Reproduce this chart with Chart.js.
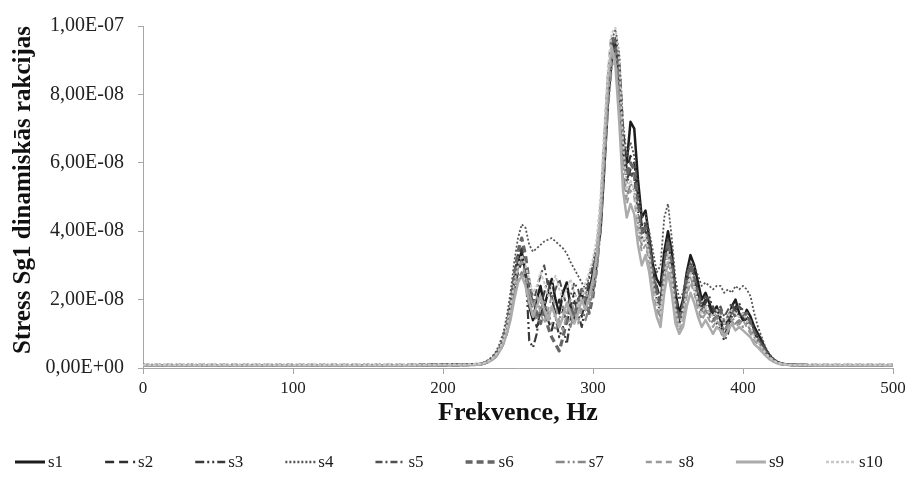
<!DOCTYPE html>
<html>
<head>
<meta charset="utf-8">
<script src="https://cdn.jsdelivr.net/npm/chart.js@4/dist/chart.umd.min.js"></script>
<style>
  html, body { margin: 0; padding: 0; background: #ffffff; }
  #wrap { width: 912px; height: 480px; position: relative; }
</style>
</head>
<body>
<div id="wrap"><canvas id="chart" width="912" height="480"></canvas></div>
<script>
// Frequency grid, Hz
const freq = [
  0, 20, 40, 60, 80, 100, 120, 140, 160, 180, 200, 210, 220,
  225, 227.5, 230, 232.5, 235, 237.5, 240, 242.5, 245, 247.5,
  250, 252.5, 255, 257.5, 260, 262.5, 265, 267.5, 270, 272.5,
  275, 277.5, 280, 282.5, 285, 287.5, 290, 292.5, 295, 297.5,
  300, 302.5, 305, 307.5, 310, 312.5, 315, 317.5, 320, 322.5,
  325, 327.5, 330, 332.5, 335, 337.5, 340, 342.5, 345, 347.5,
  350, 352.5, 355, 357.5, 360, 362.5, 365, 367.5, 370, 372.5,
  375, 377.5, 380, 382.5, 385, 387.5, 390, 392.5, 395, 397.5,
  400, 402.5, 405, 407.5, 410, 412.5, 415, 417.5, 420, 422.5,
  425, 427.5, 430, 432.5, 435,
  445, 460, 480, 500
];

// Stress Sg1 dynamic response per measurement, in units of 1E-09
const s1 = [
  0.8,0.8,0.8,0.8,0.8,0.8,0.8,0.8,0.8,0.8,0.9,0.9,1.0,
  1.1,1.4,1.9,2.6,3.6,5.2,7.5,11,17,25,
  31,34,28,18,14,20,24,18,22,26,
  20,16,22,25,18,14,20,22,17,22,
  28,33,40,58,78,90,95,84,62,60,
  72,70,55,44,46,38,30,26,24,34,
  40,34,22,16,20,28,33,30,25,20,
  22,19,16,18,14,9,12,18,20,16,
  14,17,15,12,10,8,5.5,3.8,2.6,1.8,
  1.3,1.1,1.0,0.9,0.9,
  0.8,0.8,0.8,0.8
];
const s2 = [
  0.7,0.7,0.7,0.7,0.7,0.7,0.7,0.7,0.7,0.7,0.8,0.8,0.9,
  1.0,1.3,1.7,2.3,3.2,4.6,6.8,10,15,22,
  28,31,27,20,16,12,15,19,14,11,
  16,20,17,13,18,22,19,15,20,25,
  24,30,42,62,80,94,97,90,70,58,
  62,60,50,42,40,36,28,24,20,30,
  38,30,20,15,18,24,30,28,22,18,
  20,18,15,17,15,12,14,16,18,15,
  16,14,13,10,8.5,7,5,3.5,2.4,1.7,
  1.3,1.1,1.0,0.9,0.9,
  0.7,0.7,0.7,0.7
];
const s3 = [
  0.8,0.8,0.8,0.8,0.8,0.8,0.8,0.8,0.8,0.9,0.9,1.0,1.1,
  1.2,1.5,2.0,2.8,4.0,5.8,8.5,13,19,27,
  33,35,30,8,6,10,18,22,26,21,
  15,9,12,7,14,20,16,12,18,20,
  22,32,45,65,82,93,96,86,66,55,
  58,56,46,38,42,34,26,20,16,28,
  36,28,18,13,17,25,29,26,20,16,
  19,21,17,13,11,8,10,15,17,19,
  15,13,14,11,9,7.5,5.2,3.6,2.5,1.8,
  1.3,1.1,1.0,0.9,0.9,
  0.8,0.8,0.8,0.8
];
const s4 = [
  1.0,1.0,1.0,1.0,1.0,1.0,1.0,1.0,1.0,1.0,1.1,1.1,1.2,
  1.3,1.7,2.3,3.2,4.6,6.8,10,15,22,31,
  38,42,41,36,34,35,36,37,37.5,38,
  37,36,35,33.5,31,29,27,25,23,27,
  31,36,46,66,84,96,99,92,72,62,
  66,62,52,44,45,40,34,28,30,44,
  48,38,26,20,22,28,31,30,27,24,
  25,24,23,24,24,22,23,22,24,23,
  24,23,21,16,12,9,6,4.2,2.9,2.0,
  1.5,1.2,1.1,1.0,1.0,
  1.0,1.0,1.0,1.0
];
const s5 = [
  0.7,0.7,0.7,0.7,0.7,0.7,0.7,0.7,0.7,0.8,0.8,0.8,0.9,
  1.0,1.3,1.8,2.5,3.5,5.0,7.2,10.5,16,23,
  29,32,29,24,19,23,27,30,24,20,
  23,26,22,18,21,25,23,19,21,26,
  30,34,44,60,79,91,94,85,63,54,
  57,55,45,40,43,37,29,23,19,31,
  38,31,21,15,19,26,31,27,23,19,
  21,20,18,16,18,15,17,19,16,18,
  17,15,14,11,9,7,5,3.4,2.4,1.7,
  1.3,1.1,1.0,0.9,0.9,
  0.7,0.7,0.7,0.7
];
const s6 = [
  0.8,0.8,0.8,0.8,0.8,0.8,0.8,0.8,0.8,0.8,0.9,0.9,1.0,
  1.1,1.4,1.9,2.6,3.7,5.4,8,12,18,27,
  34,38,33,25,20,16,13,17,12,9,
  7,5,9,14,18,15,19,23,20,16,
  21,30,44,64,84,97,95,84,64,56,
  60,58,47,39,41,35,27,22,18,29,
  37,30,19,14,18,26,30,26,21,17,
  18,16,14,15,17,13,15,17,15,13,
  15,16,13,10,8,6.5,4.6,3.3,2.3,1.7,
  1.3,1.1,1.0,0.9,0.9,
  0.8,0.8,0.8,0.8
];
const s7 = [
  0.7,0.7,0.7,0.7,0.7,0.7,0.7,0.7,0.7,0.7,0.8,0.8,0.9,
  1.0,1.3,1.7,2.4,3.4,4.9,7,10,15,21,
  26,28,25,21,17,14,17,20,16,13,
  11,14,18,15,12,16,19,17,14,18,
  22,28,40,58,76,88,92,80,58,50,
  54,52,42,36,38,32,24,18,15,26,
  33,26,16,12,15,22,27,23,18,15,
  17,15,13,15,13,11,13,15,13,14,
  12,13,11,9,7.5,6,4.4,3.1,2.2,1.6,
  1.2,1.0,0.9,0.9,0.9,
  0.7,0.7,0.7,0.7
];
const s8 = [
  0.8,0.8,0.8,0.8,0.8,0.8,0.8,0.8,0.8,0.8,0.9,0.9,1.0,
  1.1,1.4,1.8,2.5,3.5,5,7.3,11,16,23,
  29,31,27,22,18,21,16,13,17,21,
  18,14,11,16,20,17,13,18,22,19,
  24,31,43,61,80,91,90,78,56,48,
  52,50,40,34,36,31,23,17,14,25,
  31,25,15,11,14,21,25,22,17,14,
  16,14,12,14,12,10,12,14,12,13,
  14,12,10,8,6.8,5.5,4,2.9,2.1,1.5,
  1.2,1.0,0.9,0.9,0.9,
  0.8,0.8,0.8,0.8
];
const s9 = [
  0.7,0.7,0.7,0.7,0.7,0.7,0.7,0.7,0.7,0.7,0.8,0.8,0.9,
  1.0,1.3,1.7,2.3,3.3,4.7,6.8,10,14,20,
  25,27,24,19,15,18,21,17,14,18,
  15,12,15,19,16,13,16,20,17,21,
  26,33,46,66,85,94,88,72,52,44,
  48,45,36,30,33,28,20,15,12,22,
  28,22,13,10,12,18,22,19,15,12,
  14,12,10,12,11,9,11,13,11,12,
  11,10,9,7,6,4.8,3.6,2.6,1.9,1.4,
  1.1,1.0,0.9,0.9,0.9,
  0.7,0.7,0.7,0.7
];
const s10 = [
  0.9,0.9,0.9,0.9,0.9,0.9,0.9,0.9,0.9,0.9,1.0,1.0,1.1,
  1.2,1.5,2.0,2.7,3.8,5.5,8,12,18,25,
  30,33,30,26,22,24,28,25,21,24,
  27,23,20,23,26,22,18,21,25,28,
  32,38,50,70,88,98,99.5,90,66,52,
  55,52,43,37,39,33,25,19,16,27,
  34,27,17,12,16,23,28,24,19,16,
  18,16,15,17,15,13,15,17,16,15,
  16,14,12,9,7.5,6,4.4,3.2,2.3,1.7,
  1.3,1.1,1.0,0.9,0.9,
  0.9,0.9,0.9,0.9
];

const seriesNames = ['s1', 's2', 's3', 's4', 's5', 's6', 's7', 's8', 's9', 's10'];
const seriesValues = [s1, s2, s3, s4, s5, s6, s7, s8, s9, s10];

// Axis range and tick step (units of 1E-09)
const yMin = 0, yMax = 100, yStep = 20;
const xMin = 0, xMax = 500, xStep = 100;

// Line appearance per series: [colour, width, dash]
const seriesStyle = [
  ['#1c1c1c', 2.5, []],
  ['#2e2e2e', 2.2, [9, 5]],
  ['#3a3a3a', 2.2, [9, 3, 2, 3, 2, 3]],
  ['#555555', 1.8, [2, 2]],
  ['#505050', 2.0, [7, 3, 2, 3]],
  ['#666666', 3.2, [7, 4]],
  ['#878787', 2.2, [9, 3, 2, 3, 2, 3]],
  ['#9a9a9a', 2.0, [6, 4]],
  ['#ababab', 2.5, []],
  ['#c8c8c8', 2.0, [3, 2]]
];

const SERIF = '"Liberation Serif", "Times New Roman", serif';

// Format tick values (units of 1E-09) as "8,00E-08"
function sciLabel(v) {
  const val = v * 1e-9;
  if (Math.abs(val) < 1e-20) return '0,00E+00';
  const e = Math.floor(Math.log10(Math.abs(val)) + 1e-9);
  const m = val / Math.pow(10, e);
  const sign = e < 0 ? '-' : '+';
  return m.toFixed(2).replace('.', ',') + 'E' + sign + String(Math.abs(e)).padStart(2, '0');
}

const datasets = seriesValues.map((vals, i) => ({
  label: seriesNames[i],
  data: freq.map((f, j) => ({ x: f, y: vals[j] })),
  borderColor: seriesStyle[i][0],
  borderWidth: seriesStyle[i][1],
  borderDash: seriesStyle[i][2],
  borderCapStyle: 'butt',
  borderJoinStyle: 'round',
  pointRadius: 0,
  fill: false,
  tension: 0,
  order: seriesNames.length - i   // later series painted above earlier ones
}));

// Series key drawn as a single row under the axis title
const KEY_Y = 462, KEY_LEFT = 15, KEY_LINE = 30, KEY_TEXT_GAP = 3, KEY_GAP = 42;
const seriesKey = {
  id: 'seriesKey',
  afterDraw(chart) {
    const ctx = chart.ctx;
    ctx.save();
    ctx.font = '17px ' + SERIF;
    ctx.textBaseline = 'middle';
    ctx.textAlign = 'left';
    let x = KEY_LEFT;
    chart.data.datasets.forEach(ds => {
      ctx.strokeStyle = ds.borderColor;
      ctx.lineWidth = ds.borderWidth + 0.5;
      ctx.lineCap = 'butt';
      ctx.setLineDash(ds.borderDash || []);
      ctx.beginPath();
      ctx.moveTo(x, KEY_Y);
      ctx.lineTo(x + KEY_LINE, KEY_Y);
      ctx.stroke();
      ctx.setLineDash([]);
      ctx.fillStyle = '#1a1a1a';
      const tx = x + KEY_LINE + KEY_TEXT_GAP;
      ctx.fillText(ds.label, tx, KEY_Y + 1);
      x = tx + ctx.measureText(ds.label).width + KEY_GAP;
    });
    ctx.restore();
  }
};

const axisGray = '#a6a6a6';

new Chart(document.getElementById('chart'), {
  type: 'line',
  data: { datasets },
  plugins: [seriesKey],
  options: {
    responsive: false,
    animation: false,
    events: [],
    layout: { padding: { left: 0, right: 19, top: 20, bottom: 51 } },
    plugins: {
      legend: { display: false },
      tooltip: { enabled: false },
      title: { display: false }
    },
    scales: {
      x: {
        type: 'linear',
        min: xMin,
        max: xMax,
        ticks: {
          stepSize: xStep,
          autoSkip: false,
          maxRotation: 0,
          padding: 4,
          color: '#222222',
          font: { family: SERIF, size: 17 }
        },
        grid: {
          display: true,
          drawOnChartArea: false,
          drawTicks: true,
          tickLength: 6,
          color: axisGray
        },
        border: { display: true, color: axisGray, width: 1 },
        title: {
          display: true,
          text: 'Frekvence, Hz',
          color: '#111111',
          padding: 0,
          font: { family: SERIF, size: 26, weight: 'bold', lineHeight: 1.2 }
        },
        afterFit(scale) { scale.height = 61; }
      },
      y: {
        type: 'linear',
        min: yMin,
        max: yMax,
        ticks: {
          stepSize: yStep,
          padding: 14,
          color: '#222222',
          font: { family: SERIF, size: 20 },
          callback: (v) => sciLabel(v)
        },
        grid: {
          display: true,
          drawOnChartArea: false,
          drawTicks: true,
          tickLength: 5,
          color: axisGray
        },
        border: { display: true, color: axisGray, width: 1 },
        title: {
          display: true,
          text: 'Stress Sg1 dinamiskās rakcijas',
          color: '#111111',
          align: 'end',
          padding: { top: 9, bottom: 0 },
          font: { family: SERIF, size: 25, weight: 'bold', lineHeight: 1.2 }
        },
        afterFit(scale) { scale.width = 143; }
      }
    }
  }
});
</script>
</body>
</html>
